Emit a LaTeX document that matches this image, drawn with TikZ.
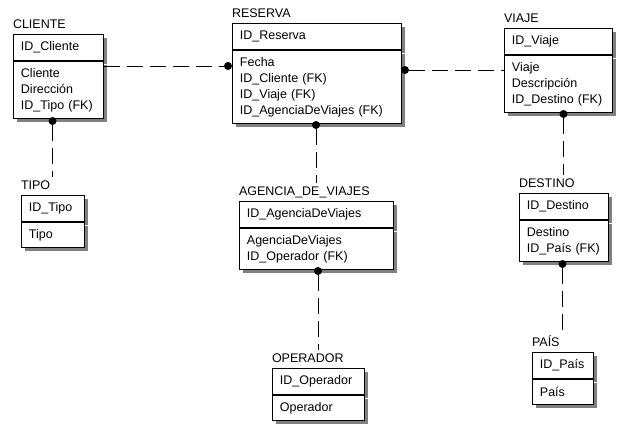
\documentclass[tikz,border=0pt]{standalone}
\usepackage{fontspec}
\setmainfont{Liberation Sans}
\usetikzlibrary{shadows}

\begin{document}
\begin{tikzpicture}[
  x=1pt, y=-1pt,
  ent/.style={rectangle, draw, fill=white, line width=0.9pt, inner xsep=7.5pt, inner ysep=0pt, align=left,
    drop shadow={shadow xshift=4pt, shadow yshift=-4pt, fill=black!50, opacity=1}},
  keybox/.style={ent, anchor=north west, minimum height=26pt, text width=#1},
  attbox/.style={ent, anchor=north, text width=#1},
  title/.style={anchor=base west, inner sep=0pt, outer xsep=0pt, outer ysep=3pt, yshift=6pt},
  rel/.style={line width=0.9pt, dash pattern=on 16pt off 7pt},
  dot/.style={circle, fill, inner sep=0pt, minimum size=8pt},
  font=\fontsize{12.5}{16}\selectfont
]
\useasboundingbox (0,0) rectangle (625,426);

% entities
\node[keybox=75pt] (cli_key) at (13,34) {ID\_Cliente};
\node[attbox=75pt, minimum height=57pt] (cli_att) at (cli_key.south) {Cliente\\Dirección\\ID\_Tipo (FK)};
\node[title] (cli_t) at (cli_key.north west) {CLIENTE};

\node[keybox=154pt] (res_key) at (232,23) {ID\_Reserva};
\node[attbox=154pt, minimum height=73pt] (res_att) at (res_key.south) {Fecha\\ID\_Cliente (FK)\\ID\_Viaje (FK)\\ID\_AgenciaDeViajes (FK)};
\node[title] (res_t) at (res_key.north west) {RESERVA};

\node[keybox=93pt] (via_key) at (504,28) {ID\_Viaje};
\node[attbox=93pt, minimum height=57pt] (via_att) at (via_key.south) {Viaje\\Descripción\\ID\_Destino (FK)};
\node[title] (via_t) at (via_key.north west) {VIAJE};

\node[keybox=48pt] (tip_key) at (21,195) {ID\_Tipo};
\node[attbox=48pt, minimum height=25pt] (tip_att) at (tip_key.south) {Tipo};
\node[title] (tip_t) at (tip_key.north west) {TIPO};

\node[keybox=139pt] (age_key) at (239,201) {ID\_AgenciaDeViajes};
\node[attbox=139pt, minimum height=41pt] (age_att) at (age_key.south) {AgenciaDeViajes\\ID\_Operador (FK)};
\node[title] (age_t) at (age_key.north west) {AGENCIA\_DE\_VIAJES};

\node[keybox=74pt] (des_key) at (519,193) {ID\_Destino};
\node[attbox=74pt, minimum height=41pt] (des_att) at (des_key.south) {Destino\\ID\_País (FK)};
\node[title] (des_t) at (des_key.north west) {DESTINO};

\node[keybox=77pt] (ope_key) at (272,368) {ID\_Operador};
\node[attbox=77pt, minimum height=25pt] (ope_att) at (ope_key.south) {Operador};
\node[title] (ope_t) at (ope_key.north west) {OPERADOR};

\node[keybox=46pt] (pai_key) at (532,352) {ID\_País};
\node[attbox=46pt, minimum height=25pt] (pai_att) at (pai_key.south) {País};
\node[title] (pai_t) at (pai_key.north west) {PAÍS};

% relationships
\node[dot] (dot_res_cli) at (228,66) {};
\node[dot] (dot_res_via) at (405,70) {};
\node[dot] (dot_cli_tip) at (52.5,121) {};
\node[dot] (dot_res_age) at (316,125) {};
\node[dot] (dot_via_des) at (563.5,114) {};
\node[dot] (dot_age_ope) at (318,271) {};
\node[dot] (dot_des_pai) at (562.5,264) {};

\draw[rel] (cli_att.east |- dot_res_cli) -- (dot_res_cli);
\draw[rel] (dot_res_via) -- (via_att.west |- dot_res_via);
\draw[rel] (dot_cli_tip) -- (dot_cli_tip |- tip_t.north);
\draw[rel] (dot_res_age) -- (dot_res_age |- age_t.north);
\draw[rel] (dot_via_des) -- (dot_via_des |- des_t.north);
\draw[rel] (dot_age_ope) -- (dot_age_ope |- ope_t.north);
\draw[rel] (dot_des_pai) -- (dot_des_pai |- pai_t.north);
\end{tikzpicture}
\end{document}
